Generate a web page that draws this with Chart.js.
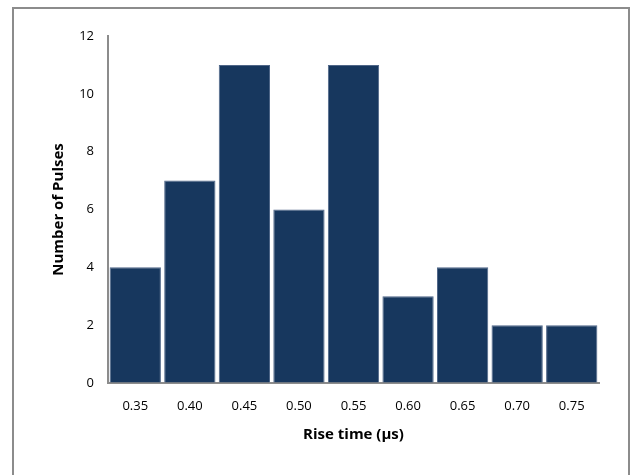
<!DOCTYPE html>
<html>
<head>
<meta charset="utf-8">
<script src="https://cdn.jsdelivr.net/npm/chart.js@4"></script>
<style>
  html, body { margin: 0; padding: 0; background: #fff; overflow: hidden; }
  #frame {
    position: absolute; left: 12px; top: 7px;
    width: 614px; height: 480px;
    border: 2px solid #8c8c8c;
  }
  #frame canvas { position: absolute; left: 0; top: 0; }
</style>
</head>
<body>
<div id="frame"><canvas id="chart" width="614" height="470"></canvas></div>
<script>
// rise time bins (µs) and pulse counts
const riseTimes = ['0.35', '0.40', '0.45', '0.50', '0.55', '0.60', '0.65', '0.70', '0.75'];
const pulseCounts = [4, 7, 11, 6, 11, 3, 4, 2, 2];
const yTicks = [0, 2, 4, 6, 8, 10, 12];

const tickFont = { family: "'Open Sans', 'Liberation Sans', sans-serif", size: 13 };
const titleFont = { family: "'Open Sans', 'Liberation Sans', sans-serif", size: 15, weight: 'bold' };

const ctx = document.getElementById('chart').getContext('2d');
new Chart(ctx, {
    type: 'bar',
    data: {
        labels: riseTimes,
        datasets: [{
            data: pulseCounts,
            backgroundColor: '#17375e',
            borderColor: '#4f6688',
            borderWidth: 1,
            barPercentage: 0.94,
            categoryPercentage: 1.0
        }]
    },
    options: {
        responsive: false,
        animation: false,
        layout: { padding: { top: 27, right: 29, left: 0, bottom: 0 } },
        plugins: { legend: { display: false }, tooltip: { enabled: false } },
        scales: {
            x: {
                grid: { drawOnChartArea: false, drawTicks: false },
                border: { display: true, color: '#8c8c8c', width: 2 },
                ticks: { color: '#000', font: tickFont, padding: 15, maxRotation: 0 },
                title: { display: true, text: 'Rise time (µs)', color: '#000', font: titleFont, padding: { top: 0, bottom: 35 } },
                afterFit: s => { s.height = 96; }
            },
            y: {
                min: yTicks[0], max: yTicks[yTicks.length - 1],
                grid: { drawOnChartArea: false, drawTicks: false },
                border: { display: true, color: '#8c8c8c', width: 2 },
                ticks: { color: '#000', font: tickFont, padding: 14, stepSize: 2 },
                afterBuildTicks: s => { s.ticks = yTicks.map(v => ({ value: v })); },
                title: { display: true, text: 'Number of Pulses', color: '#000', font: titleFont, padding: { top: 36, bottom: 0 } },
                afterFit: s => { s.width = 94; }
            }
        }
    }
});
</script>
</body>
</html>
